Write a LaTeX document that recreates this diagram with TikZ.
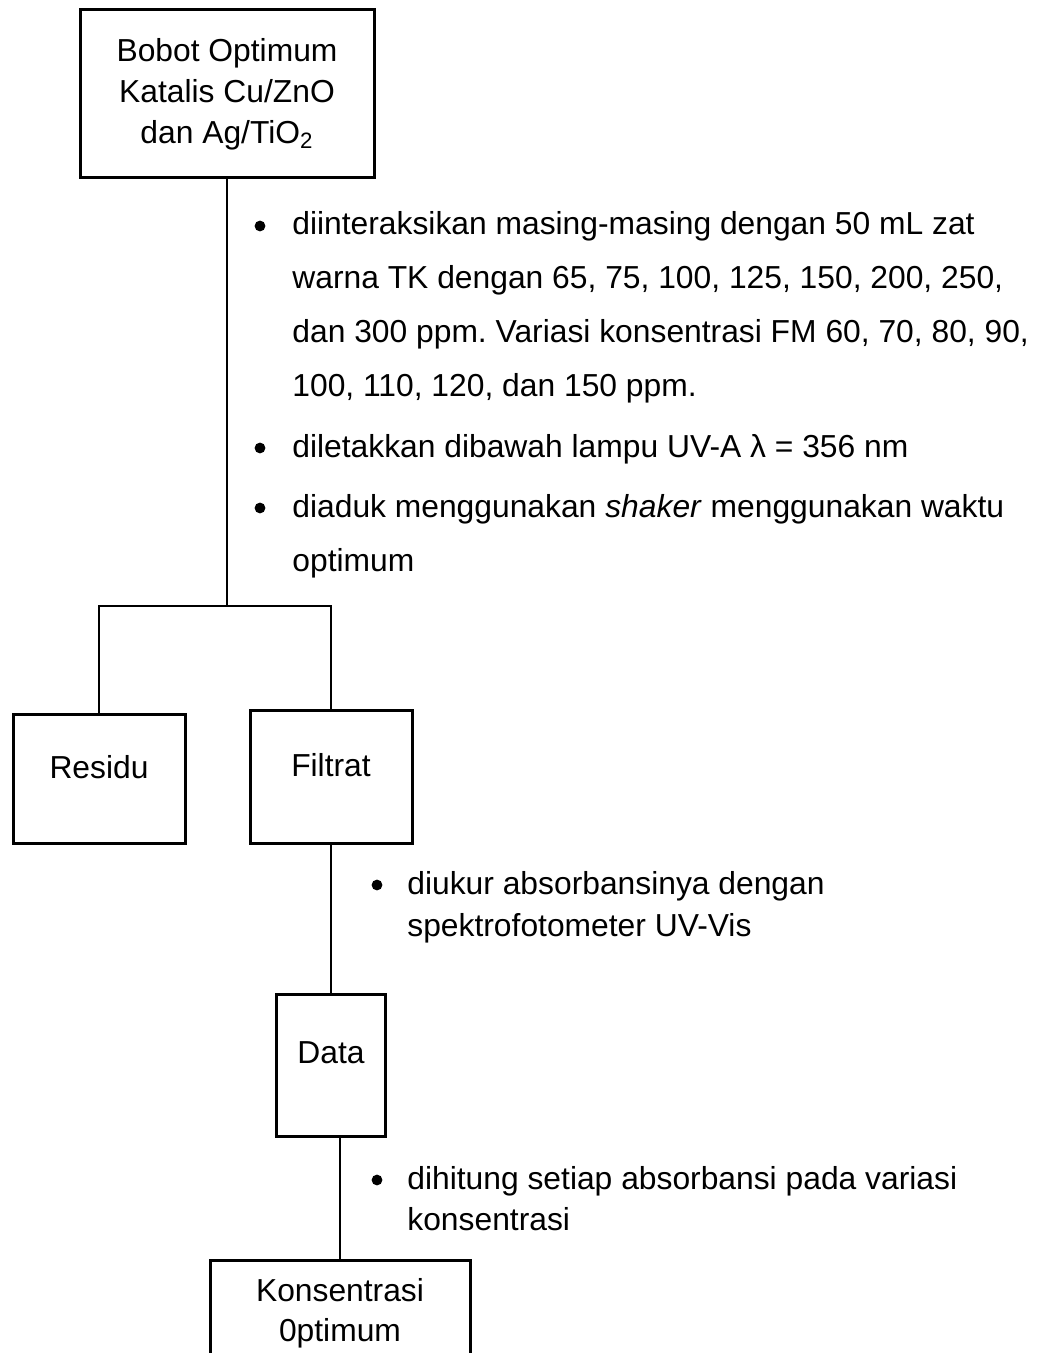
\documentclass[tikz,border=0pt]{standalone}
\usepackage{fontspec}
\setmainfont{Liberation Sans}
\newcommand{\stack}[1]{\begin{tabular}[t]{@{}l@{}}#1\end{tabular}}

\begin{document}
\frenchspacing
\begin{tikzpicture}[x=0.5pt, y=-0.5pt, font=\fontsize{15.9}{20}\selectfont,
    box/.style={draw, line width=1.5pt, align=center, inner sep=0pt},
    lifted/.style={box, text depth=12pt},
    link/.style={line width=0.75pt},
    dot/.style={circle, fill, inner sep=0pt, minimum size=5.4pt},
    note/.style={anchor=base west, inner sep=0pt}]
  \useasboundingbox (0,0) rectangle (1040,1353);
  \clip (0,0) rectangle (1040,1353);
  \node[box, minimum width=147pt, minimum height=84pt, font=\fontsize{15.9}{20.5}\selectfont] (bobot) at (227,94) {Bobot Optimum\\Katalis Cu/ZnO\\dan Ag/TiO\textsubscript{2}};
  \node[lifted, minimum width=86pt, minimum height=64.5pt] (residu) at (99,778.5) {Residu};
  \node[lifted, minimum width=81pt, minimum height=66.5pt] (filtrat) at (331,776.5) {Filtrat};
  \node[lifted, minimum width=54.5pt, minimum height=71pt] (data) at (331,1065) {Data};
  \node[box, minimum width=130pt, minimum height=53.5pt] (konsentrasi) at (340,1313.5) {Konsentrasi\\0ptimum};
  \coordinate (fork) at (227,606);
  \draw[link] (bobot.south) -- (fork);
  \draw[link] (residu.north) -- (residu.north |- fork) -- (filtrat.north |- fork) -- (filtrat.north);
  \draw[link] (filtrat.south) -- (data.north);
  \draw[link] (data.south -| konsentrasi.north) -- (konsentrasi.north);
  \node[dot] (dot1) at (260,226) {};
  \node[note, font=\fontsize{15.9}{27}\selectfont] (item1) at (292,235) {\stack{diinteraksikan masing-masing dengan 50 mL zat\\warna TK dengan 65, 75, 100, 125, 150, 200, 250,\\dan 300 ppm. Variasi konsentrasi FM 60, 70, 80, 90,\\100, 110, 120, dan 150 ppm.}};
  \node[dot] (dot2) at (260,448) {};
  \node[note] (item2) at (292,457) {diletakkan dibawah lampu UV-A λ = 356 nm};
  \node[dot] (dot3) at (260,508) {};
  \node[note, font=\fontsize{15.9}{27}\selectfont] (item3) at (292,517) {\stack{diaduk menggunakan \textit{shaker} menggunakan waktu\\optimum}};
  \node[dot] (dot4) at (377,885) {};
  \node[note, font=\fontsize{15.9}{21}\selectfont] (item4) at (407,894) {\stack{diukur absorbansinya dengan\\spektrofotometer UV-Vis}};
  \node[dot] (dot5) at (377,1180) {};
  \node[note, font=\fontsize{15.9}{20.5}\selectfont] (item5) at (407,1189) {\stack{dihitung setiap absorbansi pada variasi\\konsentrasi}};
\end{tikzpicture}
\end{document}
